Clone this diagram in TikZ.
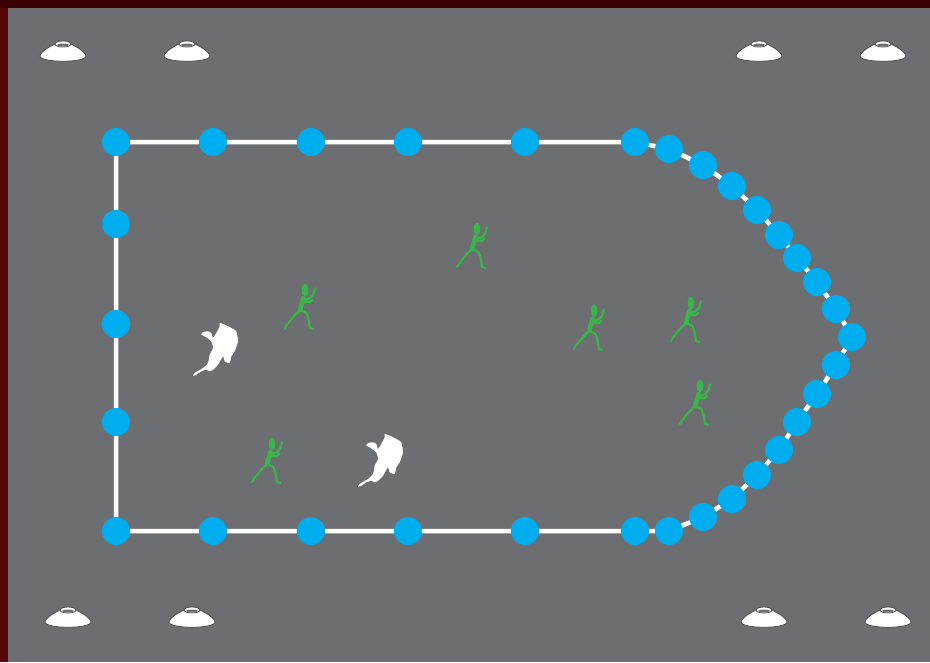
\documentclass[tikz,border=0pt]{standalone}
\usepackage{xcolor}
\usepackage{tikz}
\definecolor{pitch}{HTML}{6D6E71}
\definecolor{frame}{HTML}{3C0000}
\definecolor{frameside}{HTML}{560606}
\definecolor{marker}{HTML}{00AEEF}
\definecolor{player}{HTML}{39B54A}
\tikzset{dot/.style={circle,fill=marker,inner sep=0pt,minimum size=28pt},
  track/.style={white,line width=4.5pt,line join=round},
  cone/.pic={
    \draw[black!70,fill=white,line width=0.8pt] (-23,5) .. controls (-22,0) and (-12,-5) .. (-8,-7)
      -- (8,-7) .. controls (12,-5) and (22,0) .. (23,5) .. controls (23,12) and (-23,12) .. cycle;
    \draw[black!70,fill=white,line width=0.8pt] (0,-7) ellipse [x radius=8,y radius=3];
    \fill[pitch] (0,-6) ellipse [x radius=6,y radius=1.5];},
  runner/.pic={
    \fill[player] (5,-20) ellipse [x radius=3.3,y radius=6.5];
    \draw[player,line width=4.5pt,line cap=round] (3.5,-12) -- (0,0);
    \draw[player,line width=2.2pt,line cap=round,line join=round]
      (0,0) -- (-6.7,6.7) -- (-13.3,15) -- (-15,18)
      (1,0) -- (6.6,3.3) -- (8.3,8) -- (10,18) -- (13.3,19)
      (4,-10) -- (10,-11.7) -- (13.3,-15.7) -- (15,-21.7)
      (4,-8) -- (10,-8) -- (12,-10);},
  keeper/.pic={
    \fill[white] plot[smooth cycle,tension=0.3] coordinates {(4.7,-25) (9.7,-23.3) (16.3,-20)
      (21.3,-16.7) (23,-6.7) (19.7,3.3) (16.3,8.3) (14.7,15) (9.7,13.3) (8,8.3) (3,16.7)
      (-2,21.7) (-5.3,23.3) (-8.7,21.7) (-13.7,23.3) (-18.7,26.7) (-22,28) (-20.3,25) (-12,20)
      (-7,15) (-5.3,6.7) (-2,0) (-3.7,-6.7) (-10.3,-11.7) (-13.7,-13.3) (-12,-16) (-7,-16.7)
      (-3.7,-15) (-2,-10) (1.3,-15) (4.7,-21.7)};}}

\begin{document}
\begin{tikzpicture}[x=1pt,y=-1pt]
\useasboundingbox (0,0) rectangle (930,662);
\fill[frame] (0,0) rectangle (930,662);
\fill[frameside] (0,8) rectangle (8,662);
\fill[pitch] (8,8) rectangle (930,662);
% cones in the corners
\foreach \x/\y in {63/51,187/51,759/51,883/51,68/617,192/617,764/617,888/617}
  \pic at (\x,\y) {cone};
% marker discs round the area
\foreach \x/\y [count=\i] in {116/531,116/422,116/324,116/224,116/142,213/142,311/142,408/142,
  525/142,635/142,669/149,703/165,732/186,757/210,779/235,797/258,817/282,836/309,852/337,
  836/365,817/394,797/422,779/450,757/475,732/499,703/517,669/531,635/531,525/531,408/531,
  311/531,213/531}
  \coordinate (p\i) at (\x,\y);
\draw[track] (p1) \foreach \i in {2,...,32}{ -- (p\i)} -- cycle;
\foreach \i in {1,...,32}
  \node[dot] (d\i) at (p\i) {};
% players
\foreach \x/\y in {300/310,472/249,589/331,686/323,695/406,267/464}
  \pic at (\x,\y) {runner};
\pic at (215,348) {keeper};
\pic at (380,459) {keeper};
\end{tikzpicture}
\end{document}
